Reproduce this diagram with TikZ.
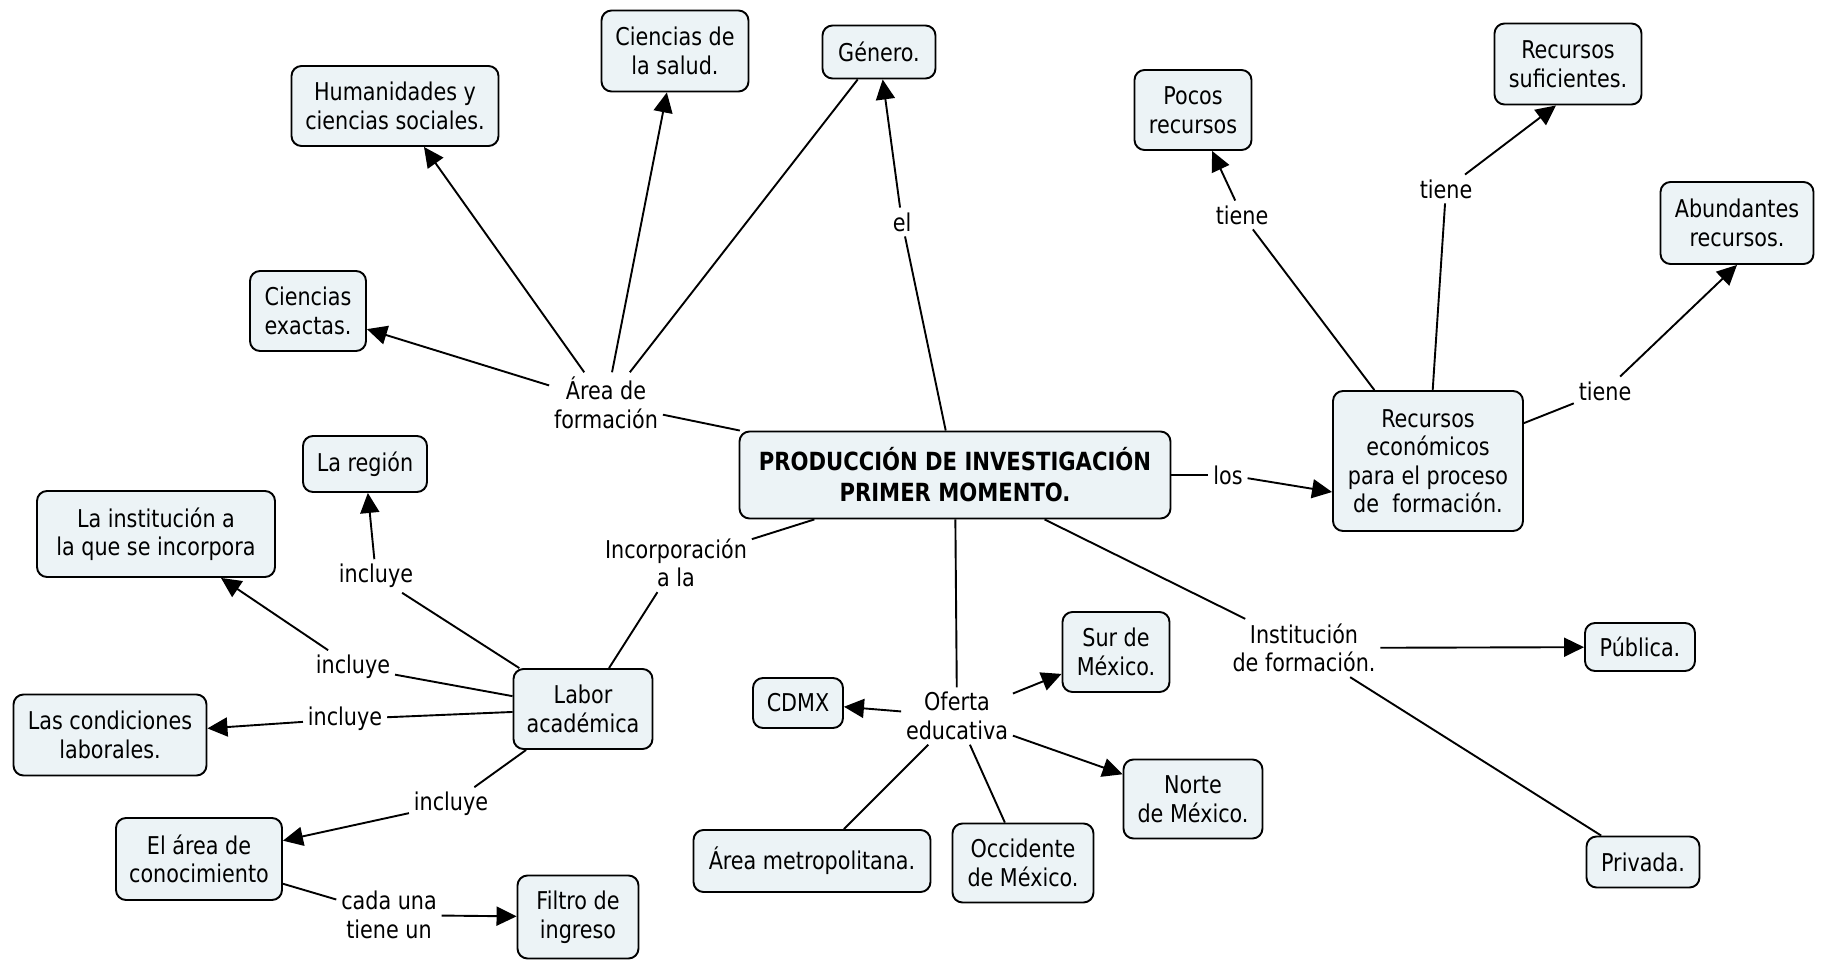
\documentclass[tikz,border=0pt]{standalone}
\usepackage{fontspec}
\setmainfont[FakeStretch=0.94]{DejaVu Sans Condensed}
\usetikzlibrary{arrows.meta,calc}
\definecolor{boxfill}{RGB}{236,243,246}
\begin{document}
\begin{tikzpicture}[x=1pt,y=-1pt,
  font=\fontsize{24.5}{28.5}\selectfont,
  line width=1.9pt,
  box/.style={draw=black, fill=boxfill, rounded corners=10pt, line width=1.9pt, align=center, inner sep=0pt},
  lbl/.style={align=center, inner sep=4pt},
  arr/.style={-{Triangle[length=20pt,width=19pt]}}]
\fill[white] (0,0) rectangle (1821,960);
\useasboundingbox (0,0) rectangle (1821,960);
% concept boxes
\node[box, minimum width=207pt, minimum height=80pt] (hum) at (395,106) {Humanidades y\\ciencias sociales.};
\node[box, minimum width=147pt, minimum height=81pt] (salud) at (675,51) {Ciencias de\\la salud.};
\node[box, minimum width=113pt, minimum height=53pt] (genero) at (879,52) {Género.};
\node[box, minimum width=116pt, minimum height=80pt] (exactas) at (308,311) {Ciencias\\exactas.};
\node[box, minimum width=117pt, minimum height=80pt] (pocos) at (1193,110) {Pocos\\recursos};
\node[box, minimum width=147pt, minimum height=81pt] (suf) at (1568,64) {Recursos\\suficientes.};
\node[box, minimum width=153pt, minimum height=82pt] (abund) at (1737,223) {Abundantes\\recursos.};
\node[box, minimum width=431pt, minimum height=87pt, font=\fontsize{25}{31}\selectfont\bfseries] (central) at (955,475) {PRODUCCIÓN DE INVESTIGACIÓN\\PRIMER MOMENTO.};
\node[box, minimum width=190pt, minimum height=140pt] (recec) at (1428,461) {Recursos\\económicos\\para el proceso\\de~ formación.};
\node[box, minimum width=124pt, minimum height=56pt] (region) at (365,464) {La región};
\node[box, minimum width=238pt, minimum height=86pt] (inst) at (156,534) {La institución a\\la que se incorpora};
\node[box, minimum width=139pt, minimum height=80pt] (labor) at (583,709) {Labor\\académica};
\node[box, minimum width=193pt, minimum height=81pt] (cond) at (110,735) {Las condiciones\\laborales.};
\node[box, minimum width=166pt, minimum height=82pt] (areacon) at (199,859) {El área de\\conocimiento};
\node[box, minimum width=121pt, minimum height=83pt] (filtro) at (578,917) {Filtro de\\ingreso};
\node[box, minimum width=90pt, minimum height=50pt] (cdmx) at (798,703) {CDMX};
\node[box, minimum width=107pt, minimum height=80pt] (sur) at (1116,652) {Sur de\\México.};
\node[box, minimum width=139pt, minimum height=79pt] (norte) at (1193,799) {Norte\\de México.};
\node[box, minimum width=237pt, minimum height=62pt] (metro) at (812,861) {Área metropolitana.};
\node[box, minimum width=141pt, minimum height=79pt] (occ) at (1023,863) {Occidente\\de México.};
\node[box, minimum width=110pt, minimum height=48pt] (publica) at (1640,647) {Pública.};
\node[box, minimum width=113pt, minimum height=51pt] (privada) at (1643,862) {Privada.};
% linking phrases
\node[lbl] (el) at (902,222) {el};
\node[lbl] (af) at (606,403) {Área de\\formación};
\node[lbl] (t1) at (1242,215) {tiene};
\node[lbl] (t2) at (1446,189) {tiene};
\node[lbl] (t3) at (1605,391) {tiene};
\node[lbl] (los) at (1228,475) {los};
\node[lbl] (inc) at (676,563) {Incorporación\\a la};
\node[lbl] (i1) at (376,576) {incluye};
\node[lbl] (i2) at (353,667) {incluye};
\node[lbl] (i3) at (345,719) {incluye};
\node[lbl] (i4) at (451,804) {incluye};
\node[lbl] (cada) at (389,915) {cada una\\tiene un};
\node[lbl] (of) at (957,716) {Oferta\\educativa};
\node[lbl] (if) at (1304,648) {Institución\\de formación.};
% connectors
\draw (central) -- (el);
\draw[arr] (el) -- (genero);
\draw (central) -- (af);
\draw[arr] (af) -- (exactas);
\draw[arr] (af) -- (hum);
\draw[arr] (af) -- (salud);
\draw (af) -- (genero);
\draw (central) -- (los);
\draw[arr] (los) -- ($(recec.west)+(0,31)$);
\draw (recec) -- (t1);
\draw[arr] (t1) -- (pocos);
\draw (recec) -- (t2);
\draw[arr] (t2) -- ($(suf.south)+(-12,0)$);
\draw (recec) -- (t3);
\draw[arr] (t3) -- (abund.south);
\draw (central) -- (inc);
\draw (inc) -- (labor);
\draw (labor) -- (i1);
\draw[arr] (i1) -- (region);
\draw (labor) -- (i2);
\draw[arr] (i2) -- (inst);
\draw (labor) -- (i3);
\draw[arr] (i3) -- (cond);
\draw (labor) -- (i4);
\draw[arr] (i4) -- (areacon);
\draw (areacon) -- (cada);
\draw[arr] (cada) -- (filtro);
\draw (central) -- (of);
\draw[arr] (of) -- (cdmx);
\draw[arr] (of) -- (sur);
\draw[arr] (of) -- (norte);
\draw (of) -- (metro);
\draw (of) -- (occ);
\draw (central) -- (if);
\draw[arr] (if) -- (publica);
\draw (if) -- (privada);
\end{tikzpicture}
\end{document}
